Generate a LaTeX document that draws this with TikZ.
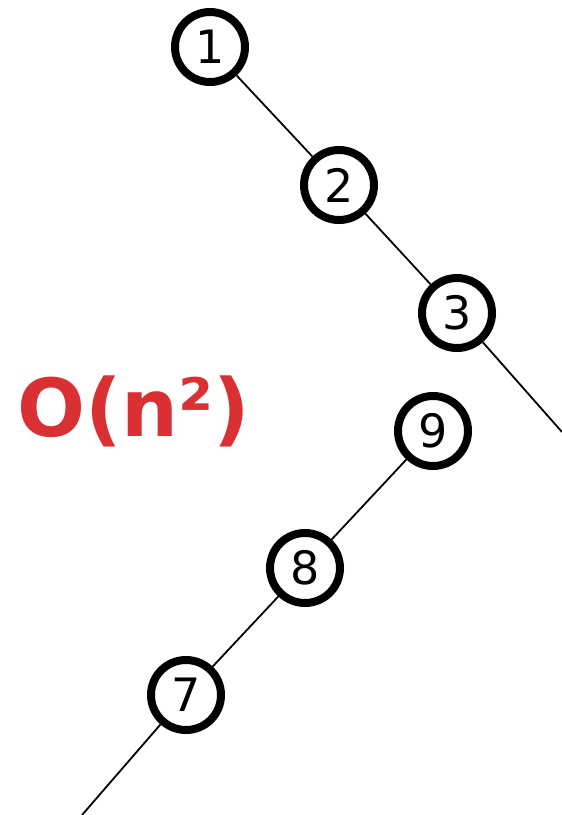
\documentclass[tikz,border=0pt]{standalone}
\usepackage{fontspec}
\setmainfont{DejaVu Sans}
\usepackage{xcolor}
\usepackage{tikz}
\definecolor{costred}{RGB}{216, 48, 51}
\tikzset{
 treenode/.style={
 circle,
 draw=black,
 fill=white,
 line width=8pt,
 minimum size=70pt,
 inner sep=0pt,
 font=\fontsize{46}{46}\selectfont
 },
 treeedge/.style={line width=1.8pt, draw=black},
 costlabel/.style={
 anchor=base,
 text=costred,
 font=\fontsize{80}{80}\selectfont\bfseries
 }
}

\begin{document}
\begin{tikzpicture}[x=1pt, y=-1pt]
	\useasboundingbox (0,0) rectangle (562,815);
	\clip (0,0) rectangle (562,815);
  
	% upper chain, going off to the right
	\coordinate (off4) at (562,432);
	\node[treenode] (n1) at (210,47) {1};
	\node[treenode] (n2) at (339,185) {2};
	\node[treenode] (n3) at (457,313) {3};
  
	% lower chain, going off to the bottom
	\node[treenode] (n9) at (433,431) {9};
	\node[treenode] (n8) at (305,568) {8};
	\node[treenode] (n7) at (186,695) {7};
	\coordinate (off6) at (82,815);
  
	\node[costlabel] (cost) at (134,436) {O(n²)};
  
	\draw[treeedge] (n1) -- (n2);
	\draw[treeedge] (n2) -- (n3);
	\draw[treeedge] (n3) -- (off4);
  
	\draw[treeedge] (n9) -- (n8);
	\draw[treeedge] (n8) -- (n7);
	\draw[treeedge] (n7) -- (off6);
\end{tikzpicture}
\end{document}
